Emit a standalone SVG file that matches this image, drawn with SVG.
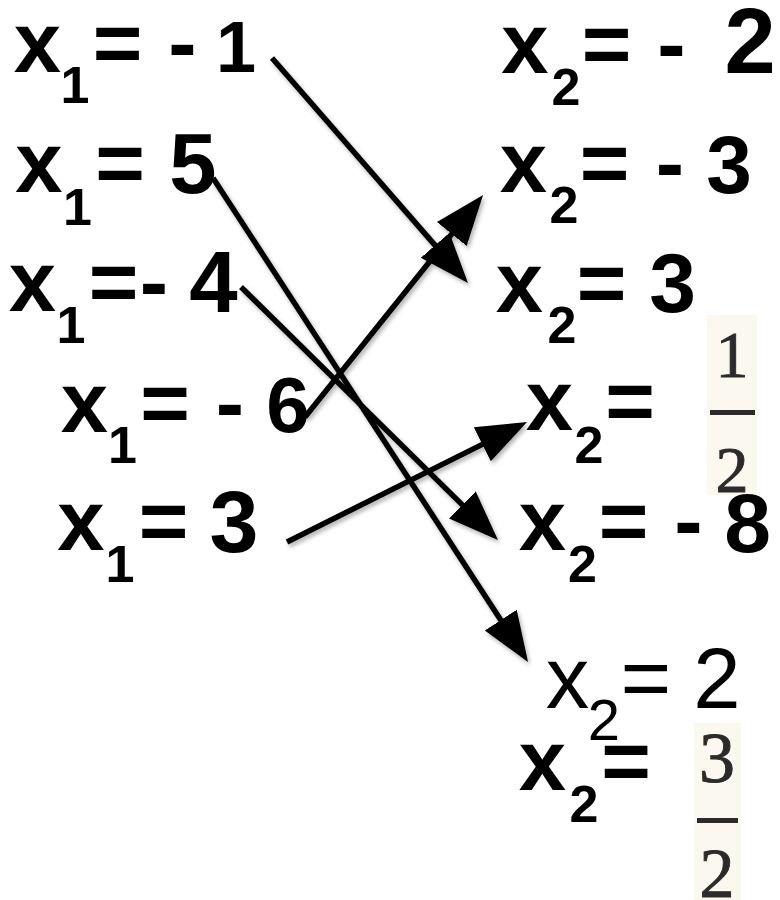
<svg xmlns="http://www.w3.org/2000/svg" width="780" height="900" viewBox="0 0 780 900">
<style>
.b{font-family:"Liberation Sans",Arial,Helvetica,sans-serif;font-weight:bold;text-anchor:middle;fill:#000}
.r{font-family:"Liberation Sans",Arial,Helvetica,sans-serif;font-weight:normal;text-anchor:middle;fill:#000}
.m{font-size:85px}
.s{font-size:52px}
.f{text-anchor:middle;fill:#2b2b2b;stroke:#2b2b2b;stroke-width:0.9}
.bg{fill:#fbf9ef}
.bar{fill:#2b2b2b}
.conn line{stroke:#000;stroke-width:5.5;stroke-linecap:butt;fill:none}
</style>
<defs>
<marker id="ah" markerUnits="userSpaceOnUse" markerWidth="52" markerHeight="40" viewBox="0 -20 52 40" refX="5" refY="0" orient="auto">
<path d="M0,-19 L50,0 L0,19 Z" fill="#000"/>
</marker>
<filter id="sh" x="-10%" y="-10%" width="130%" height="130%">
<feDropShadow dx="2" dy="3" stdDeviation="2" flood-color="#000" flood-opacity="0.3"/>
</filter>
</defs>
<rect width="780" height="900" fill="#fff"/>

<g id="l1">
<text class="b m" x="37.5" y="72">x</text>
<text class="b s" x="75" y="103">1</text>
<text class="b m" x="117.5" y="72">=</text>
<text class="b m" x="182.5" y="72">-</text>
<text class="b" font-size="72" x="236" y="72">1</text>
</g>
<g id="l2">
<text class="b m" x="39" y="192">x</text>
<text class="b s" x="77.5" y="225">1</text>
<text class="b m" x="120" y="192">=</text>
<text class="b m" x="193" y="193">5</text>
</g>
<g id="l3">
<text class="b m" x="32.5" y="311">x</text>
<text class="b s" x="71" y="343">1</text>
<text class="b m" x="113.5" y="311">=</text>
<text class="b m" x="154" y="311">-</text>
<text class="b" font-size="87" x="213.5" y="312">4</text>
</g>
<g id="l4">
<text class="b m" x="84.5" y="432">x</text>
<text class="b s" x="122.5" y="463">1</text>
<text class="b m" x="165" y="432">=</text>
<text class="b m" x="230" y="432">-</text>
<text class="b" font-size="78" x="288" y="432">6</text>
</g>
<g id="l5">
<text class="b m" x="81" y="550">x</text>
<text class="b s" x="120" y="582">1</text>
<text class="b m" x="163.5" y="550">=</text>
<text class="b" font-size="88" x="234" y="552">3</text>
</g>

<g id="r1">
<text class="b m" x="525" y="73">x</text>
<text class="b s" x="566" y="105">2</text>
<text class="b m" x="606.5" y="73">=</text>
<text class="b m" x="671.5" y="73">-</text>
<text class="b" font-size="92" x="750" y="73">2</text>
</g>
<g id="r2">
<text class="b m" x="523.5" y="192">x</text>
<text class="b s" x="564" y="223">2</text>
<text class="b m" x="604.5" y="192">=</text>
<text class="b m" x="670" y="192">-</text>
<text class="b" font-size="82" x="729" y="193">3</text>
</g>
<g id="r3">
<text class="b m" x="519.5" y="312">x</text>
<text class="b s" x="562" y="343">2</text>
<text class="b m" x="601.5" y="312">=</text>
<text class="b" font-size="84" x="672.5" y="312">3</text>
</g>
<g id="r4">
<text class="b m" x="549.5" y="430">x</text>
<text class="b s" x="589" y="463">2</text>
<text class="b m" x="630" y="430">=</text>
<rect class="bg" x="707" y="315" width="50" height="180"/>
<text class="f" font-family="Liberation Serif, Times New Roman, serif" font-size="66" x="732" y="377">1</text>
<rect class="bar" x="710" y="410" width="45" height="5"/>
<text class="f" font-family="Liberation Serif, Times New Roman, serif" font-size="66" x="732" y="492">2</text>
</g>
<g id="r5">
<text class="b m" x="542.5" y="550">x</text>
<text class="b s" x="582.5" y="582">2</text>
<text class="b m" x="623.5" y="550">=</text>
<text class="b m" x="688.5" y="550">-</text>
<text class="b" font-size="84" x="747.5" y="552">8</text>
</g>
<g id="r6">
<text class="r" font-size="87" x="567.5" y="708">x</text>
<text class="r" font-size="58" x="604" y="740">2</text>
<text class="r" font-size="87" x="646" y="708">=</text>
<text class="r" font-size="85" x="717" y="708">2</text>
</g>
<g id="r7">
<text class="b m" x="542.5" y="790">x</text>
<text class="b s" x="584" y="822">2</text>
<text class="b m" x="626" y="790">=</text>
<rect class="bg" x="694" y="723" width="47" height="177"/>
<text class="f" font-family="Liberation Serif, Times New Roman, serif" font-size="72" x="717" y="782">3</text>
<rect class="bar" x="697" y="818" width="41" height="5"/>
<text class="f" font-family="Liberation Serif, Times New Roman, serif" font-size="70" x="717" y="897">2</text>
</g>

<g id="connectors" class="conn" filter="url(#sh)">
<line x1="272" y1="58" x2="438.4" y2="249.1" marker-end="url(#ah)"/>
<line x1="305" y1="417" x2="454.9" y2="230.1" marker-end="url(#ah)"/>
<line x1="213" y1="178" x2="503.5" y2="624.3" marker-end="url(#ah)"/>
<line x1="241" y1="287" x2="465.9" y2="508.4" marker-end="url(#ah)"/>
<line x1="287" y1="542" x2="486.8" y2="442.1" marker-end="url(#ah)"/>
</g>
</svg>
